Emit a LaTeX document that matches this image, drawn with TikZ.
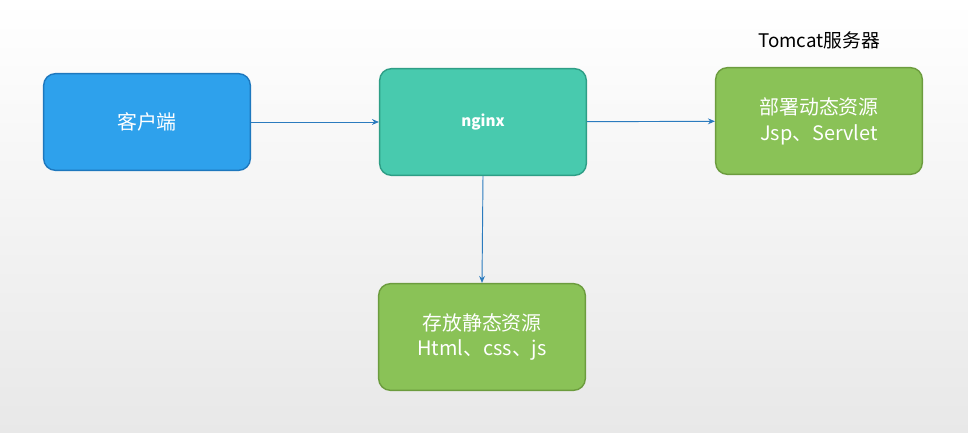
\documentclass[tikz,border=0pt]{standalone}
\usepackage{fontspec}
\setmainfont{Noto Sans CJK SC}
\usetikzlibrary{arrows.meta,positioning}
\definecolor{clientblue}{HTML}{2EA1EC}
\definecolor{clientline}{HTML}{1E78BE}
\definecolor{nginxteal}{HTML}{48CAAE}
\definecolor{nginxline}{HTML}{2E9E86}
\definecolor{resgreen}{HTML}{8AC257}
\definecolor{resline}{HTML}{6C9C3E}
\definecolor{arrowblue}{HTML}{2B7BBE}
\tikzset{
  box/.style={rounded corners=10pt, line width=1.2pt, minimum width=6.2cm, minimum height=3.2cm,
    text=white, font=\fontsize{17}{22}\selectfont, align=center},
  link/.style={-{Stealth[length=6pt,width=5pt]}, draw=arrowblue, line width=0.8pt}
}
\begin{document}
\begin{tikzpicture}[x=0.03cm,y=-0.03cm]
	\shade[top color=white, bottom color=black!9] (0,0) rectangle (968,433);
	\node[box, fill=clientblue, draw=clientline, minimum height=2.9cm] (client) at (147,122) {客户端};
	\node[box, fill=nginxteal, draw=nginxline] (nginx) at (483,122) {\fontsize{13}{16}\selectfont\bfseries nginx};
	\node[box, fill=resgreen, draw=resline] (tomcat) at (819,121) {部署动态资源\\Jsp、Servlet};
	\node[box, fill=resgreen, draw=resline] (static) at (482,337) {存放静态资源\\Html、css、js};
	\node[font=\fontsize{16}{20}\selectfont] (tomcatlabel) at (819,40) {Tomcat服务器};
	\draw[link] (client) -- (nginx);
	\draw[link] (nginx) -- (tomcat);
	\draw[link] (nginx.south) -- (static.north);
\end{tikzpicture}
\end{document}
